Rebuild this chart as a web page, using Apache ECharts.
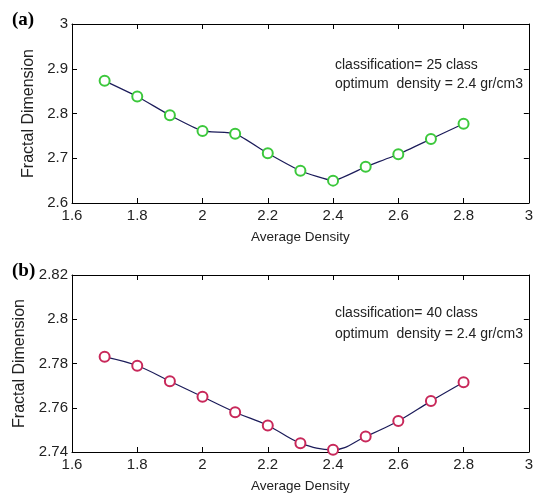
<!DOCTYPE html>
<html>
<head>
<meta charset="utf-8">
<script src="https://cdn.jsdelivr.net/npm/echarts@6/dist/echarts.min.js"></script>
<style>
  html, body { margin: 0; padding: 0; background: #fff; }
  #container { width: 536px; height: 498px; }
</style>
</head>
<body>
<div id="container"></div>
<script>
// average density (x) for both panels
let density = [1.7, 1.8, 1.9, 2.0, 2.1, 2.2, 2.3, 2.4, 2.5, 2.6, 2.7, 2.8];
// (a) classification = 25 class
let fractal25 = [2.873, 2.838, 2.796, 2.761, 2.755, 2.711, 2.672, 2.650, 2.681, 2.709, 2.743, 2.777];
// (b) classification = 40 class
let fractal40 = [2.783, 2.779, 2.772, 2.765, 2.758, 2.752, 2.744, 2.741, 2.747, 2.754, 2.763, 2.7715];

let narrow = '"Liberation Sans Narrow", "Liberation Sans"';
let font = 'Liberation Sans';
let txt = '#222';

function pairs(ys) {
  return density.map((x, i) => [x, ys[i]]);
}

function xAx(grid, pos, labels) {
  return {
    type: 'value',
    gridIndex: grid,
    position: pos,
    min: 1.6,
    max: 3,
    interval: 0.2,
    name: labels ? 'Average Density' : '',
    nameLocation: 'middle',
    nameGap: 27,
    nameTextStyle: { fontFamily: font, fontSize: 13.5, color: txt },
    axisLine: { show: true, onZero: false, lineStyle: { color: '#000', width: 1 } },
    axisTick: { show: true, inside: true, length: 5, lineStyle: { color: '#000' } },
    axisLabel: { show: labels, fontFamily: narrow, fontSize: 15, color: txt, margin: 5 },
    splitLine: { show: false },
  };
}

function yAx(grid, pos, min, max, step, labels) {
  return {
    type: 'value',
    gridIndex: grid,
    position: pos,
    min: min,
    max: max,
    interval: step,
    name: labels ? 'Fractal Dimension' : '',
    nameLocation: 'middle',
    nameGap: 35,
    nameTextStyle: { fontFamily: font, fontSize: 16, color: txt },
    axisLine: { show: true, onZero: false, lineStyle: { color: '#000', width: 1 } },
    axisTick: { show: true, inside: true, length: 5, lineStyle: { color: '#000' } },
    axisLabel: { show: labels, fontFamily: narrow, fontSize: 15, color: txt, margin: 4 },
    splitLine: { show: false },
  };
}

var myChart = echarts.init(document.getElementById('container'));

let option = {
  animation: false,
  backgroundColor: '#fff',
  grid: [
    { left: 72, top: 24, width: 459, height: 179 },
    { left: 72, top: 275, width: 459, height: 177 },
  ],
  xAxis: [
    xAx(0, 'bottom', true),
    xAx(0, 'top', false),
    xAx(1, 'bottom', true),
    xAx(1, 'top', false),
  ],
  yAxis: [
    yAx(0, 'left', 2.6, 3, 0.1, true),
    yAx(0, 'right', 2.6, 3, 0.1, false),
    yAx(1, 'left', 2.74, 2.82, 0.02, true),
    yAx(1, 'right', 2.74, 2.82, 0.02, false),
  ],
  series: [
    {
      name: '25 class',
      type: 'line',
      xAxisIndex: 0,
      yAxisIndex: 0,
      data: pairs(fractal25),
      smooth: 0.15,
      symbol: 'emptyCircle',
      symbolSize: 10,
      lineStyle: { color: '#1c1c5a', width: 1.2 },
      itemStyle: { color: '#3cc83c', borderColor: '#3cc83c', borderWidth: 1.5 },
    },
    {
      name: '40 class',
      type: 'line',
      xAxisIndex: 2,
      yAxisIndex: 2,
      data: pairs(fractal40),
      smooth: 0.4,
      symbol: 'emptyCircle',
      symbolSize: 10,
      lineStyle: { color: '#1c1c5a', width: 1.2 },
      itemStyle: { color: '#c8285a', borderColor: '#c8285a', borderWidth: 1.5 },
    },
  ],
  graphic: [
    { type: 'text', left: 12, top: 11, style: { text: '(a)', font: 'bold 19px "Liberation Serif"', fill: '#000' } },
    { type: 'text', left: 12, top: 262, style: { text: '(b)', font: 'bold 19px "Liberation Serif"', fill: '#000' } },
    { type: 'text', left: 335, top: 58, style: { text: 'classification= 25 class', font: '14px "Liberation Sans"', fill: txt } },
    { type: 'text', left: 335, top: 77, style: { text: 'optimum  density = 2.4 gr/cm3', font: '14px "Liberation Sans"', fill: txt } },
    { type: 'text', left: 335, top: 306, style: { text: 'classification= 40 class', font: '14px "Liberation Sans"', fill: txt } },
    { type: 'text', left: 335, top: 327, style: { text: 'optimum  density = 2.4 gr/cm3', font: '14px "Liberation Sans"', fill: txt } },
  ],
};

if (option && typeof option === 'object') {
  myChart.setOption(option);
}
</script>
</body>
</html>
